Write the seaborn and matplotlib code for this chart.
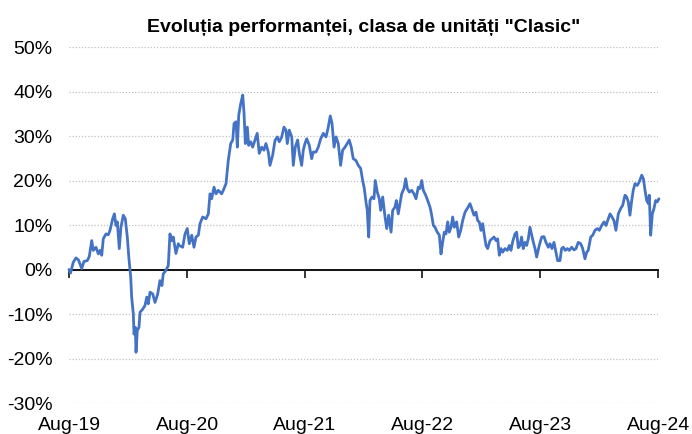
import numpy as np
import pandas as pd
import matplotlib
matplotlib.use("Agg")
import matplotlib.pyplot as plt
import matplotlib.dates as mdates
from matplotlib.ticker import FuncFormatter
import seaborn as sns

# ---- data ----
# time in years since Aug-2019
years = [
    0.000, 0.013, 0.036, 0.059, 0.079, 0.093, 0.108, 0.127, 0.155, 0.172,
    0.193, 0.206, 0.229, 0.249, 0.263, 0.278, 0.291, 0.314, 0.334, 0.348,
    0.371, 0.385, 0.399, 0.410, 0.427, 0.441, 0.461, 0.478, 0.495, 0.509,
    0.524, 0.532, 0.546, 0.552, 0.563, 0.569, 0.580, 0.594, 0.603, 0.626,
    0.645, 0.660, 0.673, 0.688, 0.711, 0.730, 0.753, 0.772, 0.789, 0.800,
    0.823, 0.843, 0.857, 0.872, 0.885, 0.908, 0.928, 0.936, 0.965, 0.985,
    1.004, 1.021, 1.042, 1.061, 1.078, 1.098, 1.112, 1.135, 1.163, 1.183,
    1.197, 1.211, 1.231, 1.248, 1.267, 1.296, 1.310, 1.333, 1.352, 1.373,
    1.390, 1.401, 1.418, 1.429, 1.441, 1.458, 1.475, 1.486, 1.497, 1.514,
    1.525, 1.542, 1.559, 1.579, 1.598, 1.615, 1.636, 1.655, 1.672, 1.692,
    1.706, 1.729, 1.749, 1.768, 1.785, 1.806, 1.825, 1.842, 1.853, 1.870,
    1.891, 1.904, 1.921, 1.941, 1.955, 1.975, 1.989, 2.003, 2.018, 2.040,
    2.060, 2.074, 2.097, 2.116, 2.137, 2.159, 2.182, 2.201, 2.218, 2.233,
    2.250, 2.267, 2.286, 2.306, 2.323, 2.343, 2.362, 2.379, 2.396, 2.413,
    2.436, 2.456, 2.476, 2.493, 2.507, 2.521, 2.532, 2.544, 2.555, 2.572,
    2.589, 2.600, 2.617, 2.634, 2.646, 2.663, 2.682, 2.697, 2.714, 2.734,
    2.748, 2.767, 2.779, 2.795, 2.810, 2.824, 2.844, 2.858, 2.872, 2.889,
    2.909, 2.929, 2.946, 2.965, 2.980, 2.994, 3.008, 3.028, 3.045, 3.065,
    3.079, 3.093, 3.107, 3.126, 3.144, 3.158, 3.172, 3.186, 3.200, 3.215,
    3.228, 3.243, 3.257, 3.271, 3.291, 3.308, 3.325, 3.342, 3.362, 3.381,
    3.404, 3.419, 3.438, 3.455, 3.469, 3.483, 3.497, 3.512, 3.526, 3.540,
    3.554, 3.574, 3.591, 3.608, 3.625, 3.639, 3.653, 3.667, 3.682, 3.701,
    3.721, 3.738, 3.752, 3.767, 3.786, 3.800, 3.814, 3.828, 3.842, 3.856,
    3.871, 3.885, 3.899, 3.913, 3.928, 3.942, 3.956, 3.970, 3.992, 4.013,
    4.032, 4.049, 4.069, 4.083, 4.100, 4.117, 4.134, 4.148, 4.168, 4.182,
    4.196, 4.213, 4.230, 4.247, 4.267, 4.287, 4.304, 4.323, 4.344, 4.361,
    4.380, 4.395, 4.408, 4.429, 4.446, 4.465, 4.485, 4.502, 4.522, 4.542,
    4.559, 4.578, 4.593, 4.610, 4.626, 4.643, 4.663, 4.683, 4.700, 4.720,
    4.734, 4.748, 4.762, 4.777, 4.790, 4.805, 4.824, 4.841, 4.862, 4.876,
    4.890, 4.904, 4.918, 4.926, 4.938, 4.952, 4.966, 4.980, 4.994, 5.008,
]
performance = [
    0.0, -0.8, 1.6, 2.6, 2.2, 1.3, 0.2, 1.8, 2.0, 2.9,
    6.5, 4.3, 5.0, 3.5, 4.3, 3.2, 6.9, 8.0, 7.8, 8.8,
    11.4, 12.5, 9.9, 10.7, 4.7, 9.5, 12.2, 11.4, 7.3, 2.4,
    -1.7, -6.2, -10.0, -14.5, -13.0, -18.6, -13.7, -13.0, -9.6, -8.9,
    -8.1, -6.2, -7.7, -5.1, -5.5, -7.4, -5.5, -2.5, -3.6, -1.0,
    -0.2, 0.9, 8.0, 6.5, 7.3, 3.6, 5.8, 5.4, 5.0, 8.0,
    9.2, 5.8, 7.7, 5.0, 7.3, 7.7, 10.3, 11.8, 11.4, 12.5,
    17.0, 15.9, 18.5, 17.0, 17.8, 17.0, 17.8, 19.3, 24.5, 28.3,
    29.1, 32.8, 33.2, 27.5, 34.7, 37.3, 39.2, 35.1, 28.3, 32.0,
    27.9, 28.7, 27.5, 29.1, 30.6, 26.1, 27.5, 26.8, 28.3, 26.4,
    23.4, 25.7, 29.0, 29.8, 28.7, 29.8, 32.0, 31.3, 28.3, 31.3,
    29.8, 23.4, 27.5, 29.1, 26.1, 23.4, 26.8, 28.3, 29.4, 27.9,
    24.9, 26.4, 26.4, 27.5, 29.4, 30.6, 29.8, 32.0, 34.5, 32.8,
    27.5, 29.8, 28.3, 23.4, 26.8, 27.5, 28.3, 29.1, 27.5, 24.9,
    24.5, 23.4, 22.7, 20.0, 18.2, 15.2, 13.3, 7.3, 15.5, 16.3,
    15.9, 20.0, 17.4, 15.9, 13.3, 16.3, 12.0, 9.2, 12.2, 8.4,
    13.3, 14.0, 15.5, 12.5, 14.8, 17.0, 18.2, 20.4, 18.2, 17.4,
    17.8, 17.0, 15.9, 18.5, 18.2, 20.0, 17.8, 16.7, 15.5, 14.0,
    12.2, 9.9, 9.5, 8.4, 7.7, 3.5, 6.1, 8.4, 8.0, 10.7,
    8.4, 9.5, 11.8, 9.5, 10.7, 7.3, 8.8, 11.0, 12.9, 13.7,
    14.8, 13.7, 12.2, 12.9, 11.0, 10.7, 8.8, 10.3, 7.7, 5.4,
    4.7, 6.5, 6.9, 7.3, 6.5, 6.9, 3.2, 4.7, 3.9, 4.7,
    4.3, 5.4, 4.3, 6.3, 8.0, 8.4, 4.9, 5.4, 7.3, 4.7,
    6.1, 5.4, 6.9, 9.5, 7.7, 6.1, 4.7, 2.8, 5.4, 7.3,
    7.4, 6.1, 5.0, 5.8, 4.7, 6.1, 3.9, 2.0, 2.0, 4.7,
    5.0, 4.3, 4.7, 4.3, 5.0, 4.4, 4.7, 6.1, 5.8, 4.7,
    2.4, 3.9, 4.3, 7.3, 7.7, 8.8, 9.2, 8.8, 9.9, 10.7,
    9.9, 11.4, 12.5, 11.8, 11.0, 8.8, 12.5, 13.7, 14.4, 16.7,
    16.3, 15.2, 12.2, 15.5, 17.8, 19.3, 18.9, 19.7, 21.2, 20.4,
    17.8, 15.5, 14.8, 16.7, 7.7, 12.5, 13.7, 15.5, 15.2, 15.9,
]
y_ticks = [-30, -20, -10, 0, 10, 20, 30, 40, 50]
x_tick_years = [2019, 2020, 2021, 2022, 2023, 2024]
title = 'Evoluția performanței, clasa de unități "Clasic"'

start = pd.Timestamp("2019-08-01")
df = pd.DataFrame({
    "date": start + pd.to_timedelta(np.array(years) * 365.25, unit="D"),
    "value": performance,
})

sns.set_style("white")
plt.rcParams["font.family"] = ["Liberation Sans", "DejaVu Sans"]

fig = plt.figure(figsize=(6.92, 4.34), dpi=100)
ax = fig.add_axes([0.0997, 0.0714, 0.8515, 0.8203])

line_color = "#4472C4"
sns.lineplot(data=df, x="date", y="value", ax=ax, color=line_color,
             linewidth=2.0, estimator=None, sort=False, clip_on=False, zorder=3)

ax.set_ylim(-30, 50)
ax.set_yticks(y_ticks)
ax.yaxis.set_major_formatter(FuncFormatter(lambda v, p: f"{v:.0f}%"))
ticks_dates = [pd.Timestamp(f"{y}-08-01") for y in x_tick_years]
ax.set_xlim(ticks_dates[0], ticks_dates[-1])
ax.set_xticks(ticks_dates)
ax.xaxis.set_major_formatter(mdates.DateFormatter("%b-%y"))

# grid
ax.yaxis.grid(True, color="#c0c0c0", linestyle=(0, (1.0, 1.5)), linewidth=0.9)
ax.xaxis.grid(False)

# spines: use top spine at zero as the category axis line
for s in ["left", "right", "bottom"]:
    ax.spines[s].set_visible(False)
ax.spines["top"].set_visible(True)
ax.spines["top"].set_position(("data", 0))
ax.spines["top"].set_color("black")
ax.spines["top"].set_linewidth(1.3)
ax.spines["top"].set_zorder(2.5)

ax.tick_params(axis="x", which="both", top=True, bottom=False, direction="in",
               length=6, width=1.1, color="black", labeltop=False,
               labelbottom=True, labelsize=14, pad=10, labelcolor="black")
ax.tick_params(axis="y", length=0, labelsize=14, pad=12, labelcolor="black")

ax.set_xlabel("")
ax.set_ylabel("")
ax.set_title(title, fontsize=14, fontweight="bold", pad=11, color="black")

fig.savefig("out.png", dpi=100)
